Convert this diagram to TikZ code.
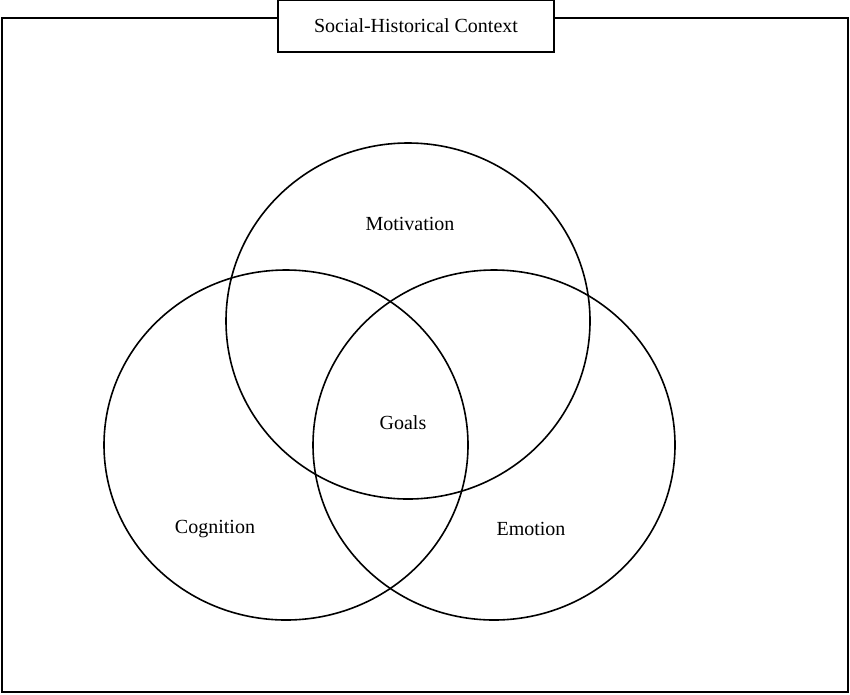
\documentclass[tikz,border=0pt]{standalone}
\usepackage{fontspec}
\setmainfont{Liberation Serif}
\begin{document}
\begin{tikzpicture}[x=1pt,y=-1pt,
  ring/.style={draw,line width=1.6pt},
  lbl/.style={font=\fontsize{20}{24}\selectfont}]
\useasboundingbox (0,0) rectangle (850,694);
\draw[line width=1.6pt] (2,18) rectangle (848,692);
\node[draw,line width=1.6pt,fill=white,minimum width=276pt,minimum height=52pt,lbl] (title) at (416,26) {Social-Historical Context};
\draw[ring] (408,321) ellipse [x radius=182, y radius=178];
\draw[ring] (286,445) ellipse [x radius=182, y radius=175];
\draw[ring] (494,445) ellipse [x radius=181, y radius=175];
\node[lbl] (mot) at (410,224) {Motivation};
\node[lbl] (goals) at (403,423) {Goals};
\node[lbl] (cog) at (215,529) {Cognition};
\node[lbl] (emo) at (531,529) {Emotion};
\end{tikzpicture}
\end{document}
